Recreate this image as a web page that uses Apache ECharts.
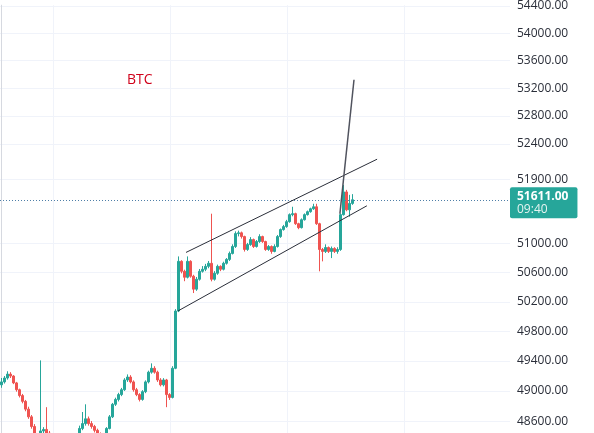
<!DOCTYPE html>
<html>
<head>
    <meta charset="utf-8">
    <title>BTC</title>
    <script src="https://cdn.jsdelivr.net/npm/echarts@6/dist/echarts.min.js"></script>
    <style>
        html, body { margin: 0; padding: 0; background: #fff; }
        #main { width: 594px; height: 433px; }
    </style>
</head>
<body>
<div id="main"></div>
<script>
// one row per candle: [open, close, low, high]
var candles = [
    [49081, 49120, 49042, 49172], [49120, 49172, 49098, 49198], [49172, 49224, 49150, 49262],
    [49224, 49198, 49172, 49250], [49198, 49107, 49090, 49210], [49107, 49016, 48990, 49120],
    [49016, 48938, 48913, 49030], [48938, 48861, 48835, 48960], [48861, 48758, 48730, 48880],
    [48758, 48656, 48630, 48790], [48656, 48529, 48500, 48680], [48529, 48378, 48340, 48560],
    [48378, 48316, 48280, 48400], [48380, 48470, 48360, 49408], [48470, 48490, 48440, 48520],
    [48490, 48440, 48400, 48784], [48440, 48378, 48350, 48470], [48378, 48316, 48290, 48400],
    [48316, 48253, 48220, 48340], [48253, 48191, 48160, 48270], [48191, 48154, 48120, 48220],
    [48154, 48191, 48130, 48230], [48191, 48253, 48170, 48280], [48253, 48290, 48230, 48320],
    [48290, 48340, 48270, 48370], [48340, 48420, 48320, 48440], [48420, 48503, 48400, 48540],
    [48503, 48567, 48480, 48720], [48567, 48630, 48540, 48822], [48630, 48567, 48540, 48660],
    [48567, 48529, 48500, 48600], [48529, 48478, 48450, 48550], [48478, 48428, 48400, 48500],
    [48428, 48378, 48350, 48450], [48378, 48403, 48360, 48430], [48403, 48503, 48390, 48520],
    [48503, 48656, 48490, 48680], [48656, 48822, 48640, 48840], [48822, 48887, 48800, 48910],
    [48887, 48951, 48860, 48975], [48951, 49016, 48930, 49040], [49016, 49146, 49000, 49170],
    [49146, 49185, 49120, 49220], [49185, 49120, 49100, 49210], [49120, 49016, 48990, 49140],
    [49016, 48951, 48930, 49040], [48951, 48887, 48860, 48970], [48887, 48990, 48870, 49010],
    [48990, 49120, 48970, 49140], [49120, 49250, 49100, 49270], [49250, 49302, 49230, 49368],
    [49302, 49250, 49230, 49330], [49250, 49146, 49120, 49270], [49146, 49081, 49060, 49170],
    [49081, 49146, 49060, 49170], [49146, 48951, 48784, 49160], [48951, 48913, 48880, 48970],
    [48913, 49302, 48900, 49330], [49302, 50075, 49290, 50100], [50075, 50755, 50060, 50823],
    [50755, 50618, 50590, 50770], [50618, 50536, 50482, 50640], [50536, 50755, 50520, 50823],
    [50755, 50550, 50530, 50770], [50550, 50373, 50320, 50570], [50373, 50509, 50350, 50540],
    [50509, 50618, 50490, 50650], [50618, 50646, 50600, 50690], [50646, 50686, 50620, 50720],
    [50686, 50728, 50660, 50760], [50728, 50509, 50480, 51416], [50509, 50591, 50490, 50620],
    [50591, 50686, 50570, 50710], [50686, 50646, 50620, 50700], [50646, 50728, 50630, 50750],
    [50728, 50782, 50710, 50800], [50782, 50864, 50760, 50890], [50864, 50960, 50850, 50990],
    [50960, 51139, 50940, 51170], [51139, 51150, 51100, 51180], [51150, 51098, 51070, 51167],
    [51098, 50919, 50890, 51110], [50919, 50987, 50900, 51010], [50987, 51056, 50970, 51090],
    [51056, 50960, 50940, 51070], [50960, 51029, 50945, 51050], [51029, 51098, 51010, 51130],
    [51098, 51029, 51010, 51110], [51029, 50919, 50900, 51040], [50919, 50960, 50900, 50980],
    [50960, 50892, 50860, 50975], [50892, 50960, 50880, 50990], [50960, 51098, 50945, 51120],
    [51098, 51195, 51080, 51210], [51195, 51236, 51180, 51260], [51236, 51305, 51220, 51330],
    [51305, 51403, 51290, 51420], [51403, 51417, 51380, 51513], [51417, 51277, 51260, 51430],
    [51277, 51222, 51200, 51290], [51222, 51332, 51210, 51350], [51332, 51403, 51320, 51420],
    [51403, 51444, 51390, 51460], [51444, 51485, 51430, 51500], [51485, 51513, 51470, 51555],
    [51513, 51277, 51260, 51555], [51277, 50919, 50618, 51290], [50919, 50892, 50755, 50940],
    [50892, 50946, 50870, 50990], [50946, 50892, 50870, 50960], [50892, 50933, 50800, 50960],
    [50933, 50892, 50870, 50950], [50892, 50919, 50860, 50950], [50919, 51403, 50900, 51420],
    [51403, 51721, 51390, 51819], [51721, 51470, 51450, 51750], [51470, 51560, 51374, 51680],
    [51560, 51611, 51540, 51690]
];

var slotCount = 170;           // candle slots across the pane, incl. empty future ones
var priceTicks = [48600, 49000, 49400, 49800, 50200, 50600, 51000, 51900, 52400, 52800, 53200, 53600, 54000, 54400];
var timeGrid = [17.2, 56.2, 95.2, 134.2];
var lastPrice = 51611;
var lastTime = '09:40';

// drawn trend lines, [slot, price]
var upperChannel = [[61.5, 50878], [125.2, 52183]];
var lowerChannel = [[58.8, 50075], [121.8, 51527]];
var breakoutLine = [[112.8, 51416], [117.5, 53321]];

var categories = [];
for (var i = 0; i < slotCount; i++) categories.push(String(i));

var chart = echarts.init(document.getElementById('main'));

function trend(data, color, width) {
    return {
        type: 'line',
        xAxisIndex: 1,
        data: data,
        symbol: 'none',
        silent: true,
        lineStyle: { color: color, width: width },
        z: 5
    };
}

chart.setOption({
    animation: false,
    grid: { left: 0, right: 84, top: 0, bottom: 0 },
    xAxis: [
        { type: 'category', data: categories, show: false, boundaryGap: true },
        {
            type: 'value', min: -0.5, max: slotCount - 0.5,
            axisLine: { show: false }, axisLabel: { show: false },
            axisTick: { show: false, customValues: timeGrid },
            splitLine: { show: true, lineStyle: { color: '#f0f3fa' } }
        }
    ],
    yAxis: {
        type: 'log', logBase: 10, position: 'right',
        min: 48443, max: 54412,
        axisLine: { show: true, lineStyle: { color: '#d6d9e0' } },
        axisTick: { show: false, customValues: priceTicks },
        axisLabel: {
            customValues: priceTicks,
            margin: 7,
            color: '#2a2e39',
            fontSize: 12,
            fontFamily: 'Open Sans',
            formatter: function (v) { return Number(v).toFixed(2); }
        },
        splitLine: { show: true, lineStyle: { color: '#f0f3fa' } }
    },
    graphic: [{
        type: 'text', left: 127, top: 73,
        style: { text: 'BTC', fill: '#d0021b', font: '14px "Open Sans"' }
    }],
    series: [
        {
            type: 'candlestick',
            data: candles,
            barWidth: 2,
            itemStyle: {
                color: '#26a69a', color0: '#ef5350',
                borderColor: '#26a69a', borderColor0: '#ef5350', borderWidth: 1
            },
            markLine: {
                silent: true,
                symbol: ['none', 'none'],
                lineStyle: { color: '#4f7fa8', type: [1, 2], width: 1 },
                label: {
                    position: 'end',
                    distance: 0,
                    offset: [0, 3],
                    backgroundColor: '#26a69a',
                    borderRadius: 2,
                    padding: [3, 9, 2, 7],
                    formatter: function () {
                        return '{p|' + lastPrice.toFixed(2) + '}\n{t|' + lastTime + '}';
                    },
                    rich: {
                        p: { color: '#fff', fontWeight: 'bold', fontSize: 12, fontFamily: 'Open Sans', lineHeight: 13 },
                        t: { color: '#e6f4f1', fontSize: 12, fontFamily: 'Open Sans', lineHeight: 13 }
                    }
                },
                data: [{ yAxis: lastPrice }]
            }
        },
        trend(upperChannel, '#2a2e39', 1),
        trend(lowerChannel, '#2a2e39', 1),
        trend(breakoutLine, '#50535e', 1.5)
    ]
});
</script>
</body>
</html>
